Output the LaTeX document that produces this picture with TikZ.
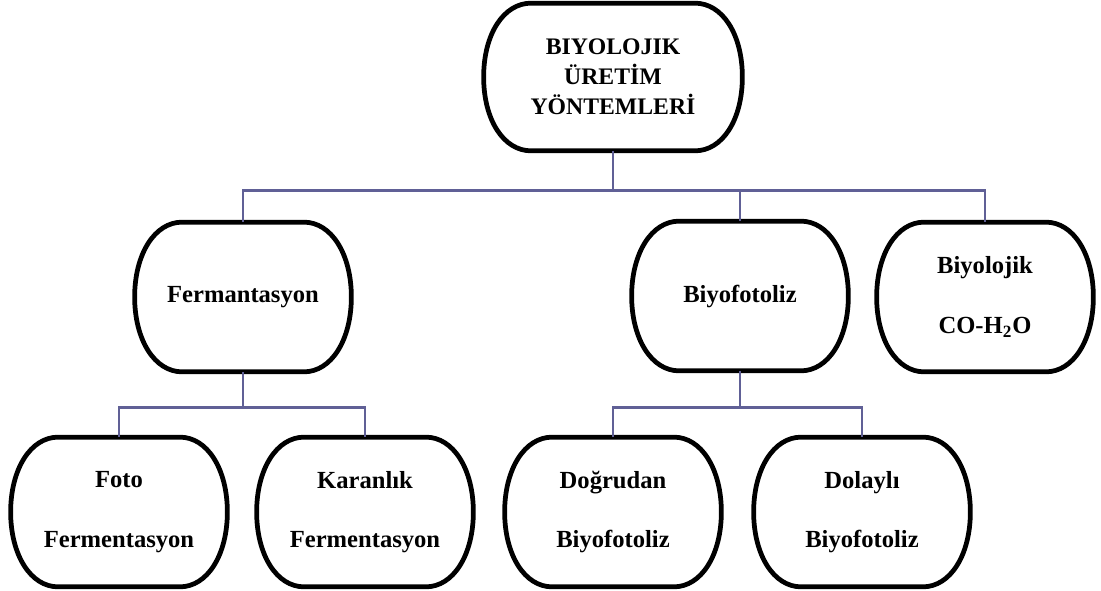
\documentclass[tikz,border=0pt]{standalone}
\usepackage{fontspec}
\setmainfont{Liberation Serif}
\usetikzlibrary{calc}
\definecolor{linkblue}{RGB}{96,96,150}

% kenarlari siskin kapsul cevresi
\newcommand{\kapsul}[1]{%
    \draw[cevre] let \p1=(#1.south west), \p2=(#1.north east), \n1={0.5*\y1+0.5*\y2} in
    (\x1+0.95cm,\y2)--(\x2-0.95cm,\y2)
    .. controls (\x2-0.4cm,\y2) and (\x2,\n1+0.86cm) .. (\x2,\n1)
    .. controls (\x2,\n1-0.86cm) and (\x2-0.4cm,\y1) .. (\x2-0.95cm,\y1)
    --(\x1+0.95cm,\y1)
    .. controls (\x1+0.4cm,\y1) and (\x1,\n1-0.86cm) .. (\x1,\n1)
    .. controls (\x1,\n1+0.86cm) and (\x1+0.4cm,\y2) .. cycle;}

\begin{document}
\begin{tikzpicture}[
    kutu/.style={minimum width=4.32cm, minimum height=2.98cm, align=center, font=\bfseries\fontsize{14}{34}\selectfont, inner sep=0pt},
    ana/.style={kutu, minimum width=5.16cm, minimum height=2.94cm, font=\bfseries\fontsize{13.5}{17}\selectfont},
    cevre/.style={line width=2.7pt, line join=round},
    link/.style={draw=linkblue, line width=1.6pt}
]
    \useasboundingbox (0,0) rectangle (22.02,11.8);
    % ust seviye
    \node[ana](ana) at (12.26,10.26){BIYOLOJIK\\ÜRETİM\\YÖNTEMLERİ};
    % orta seviye
    \node[kutu](ferm) at (4.86,5.86){Fermantasyon};
    \node[kutu](biyo) at (14.80,5.88){Biyofotoliz};
    \node[kutu](co) at (19.70,5.86){Biyolojik\\CO-H\textsubscript{2}O};
    % alt seviye
    \node[kutu](foto) at (2.38,1.56){Foto\\Fermentasyon};
    \node[kutu](kara) at (7.30,1.56){Karanlık\\Fermentasyon};
    \node[kutu](dogru) at (12.26,1.56){Doğrudan\\Biyofotoliz};
    \node[kutu](dolay) at (17.24,1.56){Dolaylı\\Biyofotoliz};
    % cevreler
    \foreach \k in {ana,ferm,biyo,co,foto,kara,dogru,dolay}{\kapsul{\k}}
    % baglantilar
    \draw[link](ana.south)--++(0,-0.8)coordinate(hub1);
    \draw[link](ferm.north)|-(hub1)-|(co.north);
    \draw[link](biyo.north)--(biyo.north|-hub1);
    \draw[link](ferm.south)--++(0,-0.72)coordinate(hub2);
    \draw[link](foto.north)|-(hub2)-|(kara.north);
    \draw[link](biyo.south)--++(0,-0.74)coordinate(hub3);
    \draw[link](dogru.north)|-(hub3)-|(dolay.north);
\end{tikzpicture}
\end{document}
